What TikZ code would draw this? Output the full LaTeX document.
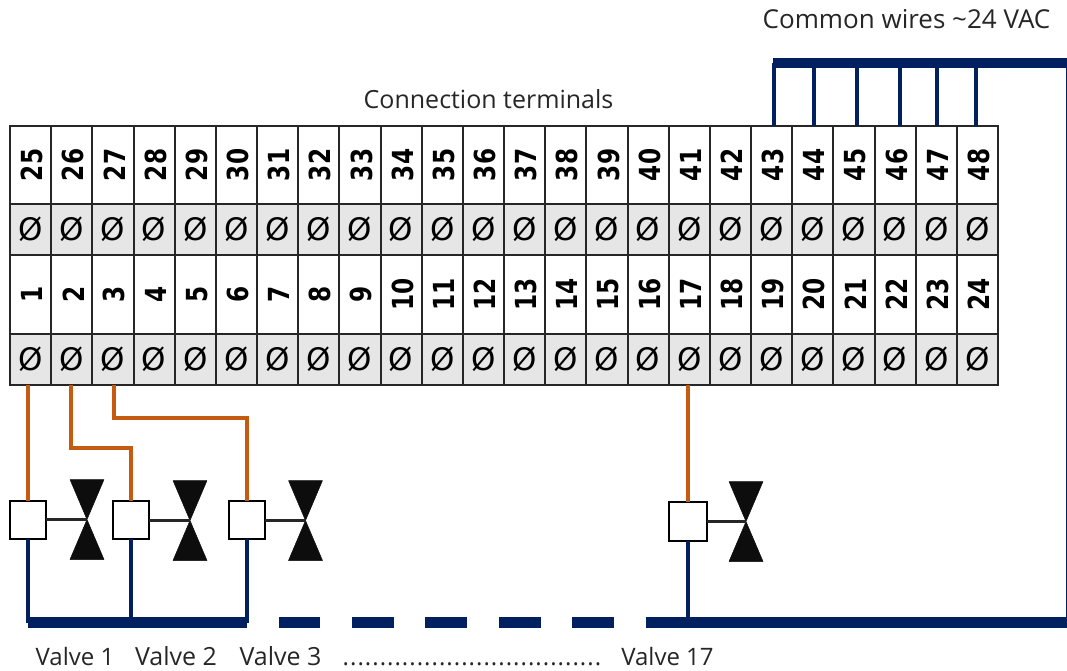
\documentclass[tikz,border=0pt]{standalone}
\usepackage{fontspec}
\setmainfont{Open Sans}
\newfontfamily\numfont{DejaVu Sans}
\definecolor{navyw}{HTML}{002060}
\definecolor{orangew}{HTML}{C55A11}
\definecolor{screwbg}{HTML}{E7E6E6}
\definecolor{ink}{HTML}{262626}
\newcommand{\numlab}[1]{\kern3pt\rotatebox{90}{\scalebox{0.8}[1]{#1}}}
\tikzset{
  cellbase/.style={draw=ink,line width=2pt,minimum width=41.17pt,inner sep=0pt,outer sep=0pt,anchor=north west},
  numcell/.style={cellbase,fill=white,font=\numfont\bfseries\fontsize{29}{29}\selectfont},
  screwcell/.style={cellbase,fill=screwbg,minimum height=50.5pt,font=\numfont\fontsize{31}{31}\selectfont},
  boxn/.style={draw=black,line width=2pt,fill=white,minimum width=36pt,minimum height=38pt,inner sep=0pt,outer sep=0pt},
  valvetri/.style={fill=black!95,draw=black!95,line width=0.5pt,line join=round},
  stem/.style={draw=ink,line width=2.2pt},
  hot/.style={draw=orangew,line width=4pt,line join=miter},
  cold/.style={draw=navyw,line width=4pt,line join=miter},
  bus/.style={draw=navyw,line width=10.5pt},
  lab/.style={font=\fontsize{24}{24}\selectfont,text=ink,inner sep=0pt,anchor=base}
}
\begin{document}
\begin{tikzpicture}[x=1pt,y=-1pt]
\useasboundingbox (0,0) rectangle (1067,671);
\foreach \i [evaluate=\i as \xx using {10+(\i-1)*41.17}, evaluate=\i as \n using {int(\i+24)}] in {1,...,24}{
  \node[numcell,minimum height=78pt] (c\n) at (\xx,126) {\numlab{\n}};
  \node[screwcell] (s\n) at (\xx,204) {\O};
  \node[numcell,minimum height=79pt] (c\i) at (\xx,255) {\numlab{\i}};
  \node[screwcell] (s\i) at (\xx,334) {\O};
}
% valve boxes
\node[boxn] (b1) at (28,519.5) {};
\node[boxn] (b2) at (131,520) {};
\node[boxn] (b3) at (247,520) {};
\node[boxn,minimum width=38pt,minimum height=39pt] (b4) at (687.5,521.5) {};
% valves
\foreach \k/\cx/\cy in {1/87/519.5,2/190/520.5,3/305.5/520.5,4/746/521.5}{
  \coordinate (v\k) at (\cx,\cy);
  \fill[valvetri] (\cx-17,\cy-40) -- (\cx+17,\cy-40) -- (\cx,\cy) -- (\cx+17,\cy+40) -- (\cx-17,\cy+40) -- (\cx,\cy) -- cycle;
  \draw[stem] (b\k.east |- v\k) -- (v\k);
}
% hot wires
\draw[hot] (b1.north |- s1.south) -- (b1.north);
\coordinate (h2) at (71,447.5);
\draw[hot] (h2 |- s2.south) -- (h2) -| (b2.north);
\coordinate (h3) at (113.5,418);
\draw[hot] (h3 |- s3.south) -- (h3) -| (b3.north);
\draw[hot] (b4.north |- s17.south) -- (b4.north);
% return bus
\coordinate (bl) at (28,622.5);
\coordinate (br) at (247,622.5);
\draw[bus] (bl) -- (br);
\foreach \a/\e in {279/320,352/394,425/467,499/541,572/614}{
  \draw[bus] (\a,622.5) -- (\e,622.5);
}
\coordinate (bs) at (645.5,622.5);
\coordinate (be) at (1067,622.5);
\draw[bus] (bs) -- (be);
\draw[cold] (b1.south) -- (b1.south |- bl);
\draw[cold] (b2.south) -- (b2.south |- bl);
\draw[cold,line width=3.5pt] (b3.south) -- (b3.south |- bl);
\draw[cold] (b4.south) -- (b4.south |- bl);
% common bus
\coordinate (tl) at (773,63);
\coordinate (tr) at (1067,63);
\draw[bus] (tl) -- (tr);
\draw[navyw,line width=1.5pt] (1066.5,63) -- (1066.5,622.5);
\foreach \n/\xx in {43/773.6,44/814,45/857,46/900,47/937,48/976}{
  \coordinate (t\n) at (\xx,63);
  \draw[cold] (t\n) -- (t\n |- c\n.north);
}
% labels
\node[lab,font=\fontsize{26}{26}\selectfont] (l1) at (906.5,29) {Common wires \textasciitilde24 VAC};
\node[lab,font=\fontsize{25}{25}\selectfont] (l2) at (488.5,109) {Connection terminals};
\node[lab] (l3) at (75,665) {Valve 1};
\node[lab,font=\fontsize{25}{25}\selectfont] (l4) at (176,665) {Valve 2};
\node[lab,font=\fontsize{25}{25}\selectfont] (l5) at (280.5,665) {Valve 3};
\node[lab,font=\fontsize{24}{24}\selectfont\addfontfeatures{LetterSpace=4.3}] (l6) at (472,665) {...................................};
\node[lab] (l7) at (667.5,665) {Valve 17};
\end{tikzpicture}
\end{document}
